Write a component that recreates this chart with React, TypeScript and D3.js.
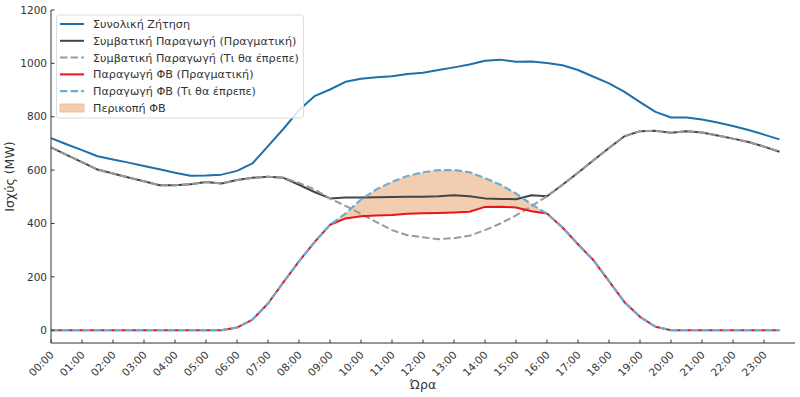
import React from "react";
import * as d3 from "d3";

const hours: number[] = Array.from({ length: 48 }, (_, i) => i / 2);
const tickLabels: string[] = Array.from({ length: 24 }, (_, i) => `${String(i).padStart(2, "0")}:00`);
const yTicks: number[] = [0, 200, 400, 600, 800, 1000, 1200];

const demand: number[] = [
  720, 697, 675, 652, 640, 628, 615, 603, 590, 579, 580, 583,
  597, 625, 690, 755, 825, 877, 902, 931, 942, 948, 952, 960,
  965, 975, 985, 996, 1010, 1014, 1006, 1007, 1001, 993, 975, 950,
  925, 893, 855, 818, 797, 797, 790, 778, 765, 750, 733, 715,
];
const convActual: number[] = [
  685, 657, 630, 602, 587, 572, 558, 543, 543, 547, 555, 550,
  563, 571, 575, 571, 545, 518, 494, 497, 497, 498, 499, 500,
  500, 502, 506, 502, 494, 492, 491, 506, 502, 545, 590, 637,
  683, 727, 746, 747, 740, 746, 741, 730, 718, 705, 688, 669,
];
const convShould: number[] = [
  685, 657, 630, 602, 587, 572, 558, 543, 543, 547, 555, 550,
  563, 571, 575, 571, 552, 528, 493, 466, 436, 405, 375, 356,
  348, 341, 345, 354, 375, 400, 430, 465, 502, 545, 590, 637,
  683, 727, 746, 747, 740, 746, 741, 730, 718, 705, 688, 669,
];
const pvShould: number[] = [
  0, 0, 0, 0, 0, 0, 0, 0, 0, 0, 0, 0,
  10, 40, 100, 180, 258, 330, 395, 437, 490, 528, 556, 578,
  592, 600, 600, 592, 570, 545, 512, 472, 437, 385, 322, 262,
  184, 105, 50, 13, 0, 0, 0, 0, 0, 0, 0, 0,
];
const pvActual: number[] = [
  0, 0, 0, 0, 0, 0, 0, 0, 0, 0, 0, 0,
  10, 40, 100, 180, 258, 330, 395, 419, 427, 430, 432, 436,
  438, 439, 441, 444, 462, 463, 460, 446, 437, 385, 322, 262,
  184, 105, 50, 13, 0, 0, 0, 0, 0, 0, 0, 0,
];

const legendLabels: string[] = [
  "Συνολική Ζήτηση",
  "Συμβατική Παραγωγή (Πραγματική)",
  "Συμβατική Παραγωγή (Τι θα έπρεπε)",
  "Παραγωγή ΦΒ (Πραγματική)",
  "Παραγωγή ΦΒ (Τι θα έπρεπε)",
  "Περικοπή ΦΒ",
];

const W = 800;
const H = 397;
const FONT = "DejaVu Sans, sans-serif";

export default function App() {
  const x = d3.scaleLinear().domain([0, 24]).range([51, 795]);
  const y = d3.scaleLinear().domain([-48, 1200]).range([343, 10]);

  const line = (vals: number[]) =>
    d3.line<number>().x((_, i) => x(hours[i])).y((v) => y(v))(vals) || "";
  const area =
    d3
      .area<number>()
      .x((_, i) => x(hours[i]))
      .y0((_, i) => y(pvActual[i]))
      .y1((v) => y(v))(pvShould) || "";

  const series = [
    { vals: demand, color: "#1f6fa9", w: 2, dash: "" },
    { vals: convActual, color: "#454545", w: 2, dash: "" },
    { vals: convShould, color: "#9a9a9a", w: 2, dash: "7.4,3.2" },
    { vals: pvActual, color: "#e8141a", w: 2, dash: "" },
    { vals: pvShould, color: "#6aaed6", w: 2.2, dash: "7.4,3.2" },
  ];

  const axisColor = "#333";
  const textColor = "#333";

  return (
    <svg
      width={W}
      height={H}
      style={{ position: "absolute", left: 0, top: 0, display: "block", background: "#fff" }}
      fontFamily={FONT}
    >
      <rect x={0} y={0} width={W} height={H} fill="#fff" />
      <path d={area} fill="#f2cdb0" stroke="none" />
      {series.map((s, i) => (
        <path
          key={i}
          d={line(s.vals)}
          fill="none"
          stroke={s.color}
          strokeWidth={s.w}
          strokeDasharray={s.dash || undefined}
          strokeLinejoin="round"
        />
      ))}

      {/* axes */}
      <line x1={x(0)} x2={x(0)} y1={y(1200)} y2={y(-48)} stroke={axisColor} strokeWidth={1} />
      <line x1={x(0)} x2={x(24)} y1={y(-48)} y2={y(-48)} stroke={axisColor} strokeWidth={1} />
      {yTicks.map((t) => (
        <g key={t}>
          <line x1={x(0)} x2={x(0) + 3.5} y1={y(t)} y2={y(t)} stroke={axisColor} />
          <text x={x(0) - 4} y={y(t)} dy="0.35em" textAnchor="end" fontSize={10.5} fill={textColor}>
            {t}
          </text>
        </g>
      ))}
      {tickLabels.map((lab, i) => (
        <g key={lab}>
          <line x1={x(i)} x2={x(i)} y1={y(-48)} y2={y(-48) - 3.5} stroke={axisColor} />
          <text
            transform={`translate(${x(i) - 2},${y(-48) + 7}) rotate(-45)`}
            textAnchor="end"
            dy="0.75em"
            fontSize={10.5}
            fill={textColor}
          >
            {lab}
          </text>
        </g>
      ))}
      <text x={(x(0) + x(24)) / 2} y={389} textAnchor="middle" fontSize={12.5} fill={textColor}>
        Ώρα
      </text>
      <text
        transform={`translate(14,${(y(1200) + y(-48)) / 2}) rotate(-90)`}
        textAnchor="middle"
        fontSize={12.5}
        fill={textColor}
      >
        Ισχύς (MW)
      </text>

      {/* legend */}
      <rect x={56.5} y={15} width={247} height={103} rx={3} fill="#fff" fillOpacity={0.85} stroke="#dcdcdc" />
      {legendLabels.map((lab, i) => {
        const ly = 24 + i * 16.8;
        const s = series[i];
        return (
          <g key={lab}>
            {i < 5 ? (
              <line
                x1={60}
                x2={84}
                y1={ly}
                y2={ly}
                stroke={s.color}
                strokeWidth={s.w}
                strokeDasharray={s.dash || undefined}
              />
            ) : (
              <rect x={60} y={ly - 4} width={24} height={8} fill="#f2cdb0" stroke="#eab999" strokeWidth={0.8} />
            )}
            <text x={93} y={ly} dy="0.35em" fontSize={11.2} fill={textColor}>
              {lab}
            </text>
          </g>
        );
      })}
    </svg>
  );
}
